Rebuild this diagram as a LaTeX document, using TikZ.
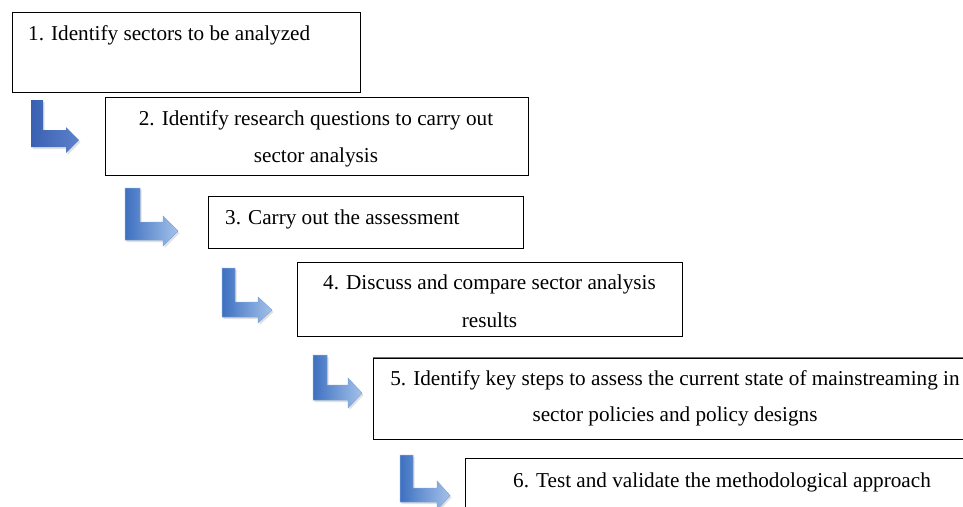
\documentclass[tikz,border=0pt]{standalone}
\usepackage{fontspec}
\setmainfont{Liberation Serif}
\definecolor{arrdarkA}{HTML}{3A60B2}
\definecolor{arrdarkB}{HTML}{5C82CC}
\definecolor{arrA}{HTML}{3E70C0}
\definecolor{arrB}{HTML}{A4C2EA}
\definecolor{arredge}{HTML}{7FA3DA}
\begin{document}
\begin{tikzpicture}[x=1pt,y=-1pt,
  stepbox/.style={draw=black, line width=0.9pt, inner sep=0pt, rectangle},
  txt/.style={font=\fontsize{21.2}{25}\selectfont, inner sep=0pt},
  arrshadow/.style={fill=black!12},
  arrfirst/.style={left color=arrdarkA, right color=arrdarkB},
  arrnext/.style={left color=arrA, right color=arrB, draw=arredge, line width=0.5pt}]
\clip (0,0) rectangle (963,506);
\fill[white] (0,0) rectangle (963,506);

% boxes
\node[stepbox, minimum width=348pt, minimum height=80pt] (b1) at (186,52) {};
\node[stepbox, minimum width=423pt, minimum height=78pt] (b2) at (316.5,136) {};
\node[stepbox, minimum width=315pt, minimum height=52pt] (b3) at (365.5,222) {};
\node[stepbox, minimum width=385pt, minimum height=74pt] (b4) at (489.5,299) {};
\node[stepbox, minimum width=607pt, minimum height=81pt] (b5) at (676.5,398.5) {};
\draw[black!55, line width=1.6pt] (b5.north west) -- (b5.north east);
\node[stepbox, minimum width=515pt, minimum height=80pt] (b6) at (722.5,498) {};

% texts
\node[txt, anchor=base west] (t1) at (28,40.5) {1. Identify sectors to be analyzed};
\node[txt, anchor=base] (t2a) at (316,125) {2. Identify research questions to carry out};
\node[txt, anchor=base] (t2b) at (316,162) {sector analysis};
\node[txt, anchor=base west] (t3) at (225,224) {3. Carry out the assessment};
\node[txt, anchor=base] (t4a) at (489.5,289) {4. Discuss and compare sector analysis};
\node[txt, anchor=base] (t4b) at (489.5,327) {results};
\node[txt, anchor=base] (t5a) at (675,385) {5. Identify key steps to assess the current state of mainstreaming in};
\node[txt, anchor=base] (t5b) at (675,421) {sector policies and policy designs};
\node[txt, anchor=base] (t6) at (722,487) {6. Test and validate the methodological approach};

% bent arrows: x1 x2 top hbartop bottom headbase headtop headbottom tip
\newcommand{\bentarrow}[9]{%
  (#1,#3) -- (#2,#3) -- (#2,#4) -- (#6,#4) -- (#6,#7) -- (#9,{(#7+#8)/2}) -- (#6,#8) -- (#6,#5) -- (#1,#5) -- cycle}

\fill[arrshadow] [shift={(1.5,2)}] \bentarrow{31}{43}{100}{130}{147}{66}{127}{153}{79};
\shade[arrfirst] \bentarrow{31}{43}{100}{130}{147}{66}{127}{153}{79};

\fill[arrshadow] [shift={(1.5,2)}] \bentarrow{125}{140}{188}{222}{240}{163}{216}{246}{178};
\shade[arrnext] \bentarrow{125}{140}{188}{222}{240}{163}{216}{246}{178};

\fill[arrshadow] [shift={(1.5,2)}] \bentarrow{222}{235}{268}{302}{317}{258}{297}{323}{272};
\shade[arrnext] \bentarrow{222}{235}{268}{302}{317}{258}{297}{323}{272};

\fill[arrshadow] [shift={(1.5,2)}] \bentarrow{313}{327}{355}{385}{400}{348}{378}{408}{362};
\shade[arrnext] \bentarrow{313}{327}{355}{385}{400}{348}{378}{408}{362};

\fill[arrshadow] [shift={(1.5,2)}] \bentarrow{400}{413}{455}{488}{502}{437}{481}{510}{450};
\shade[arrnext] \bentarrow{400}{413}{455}{488}{502}{437}{481}{510}{450};
\end{tikzpicture}
\end{document}
